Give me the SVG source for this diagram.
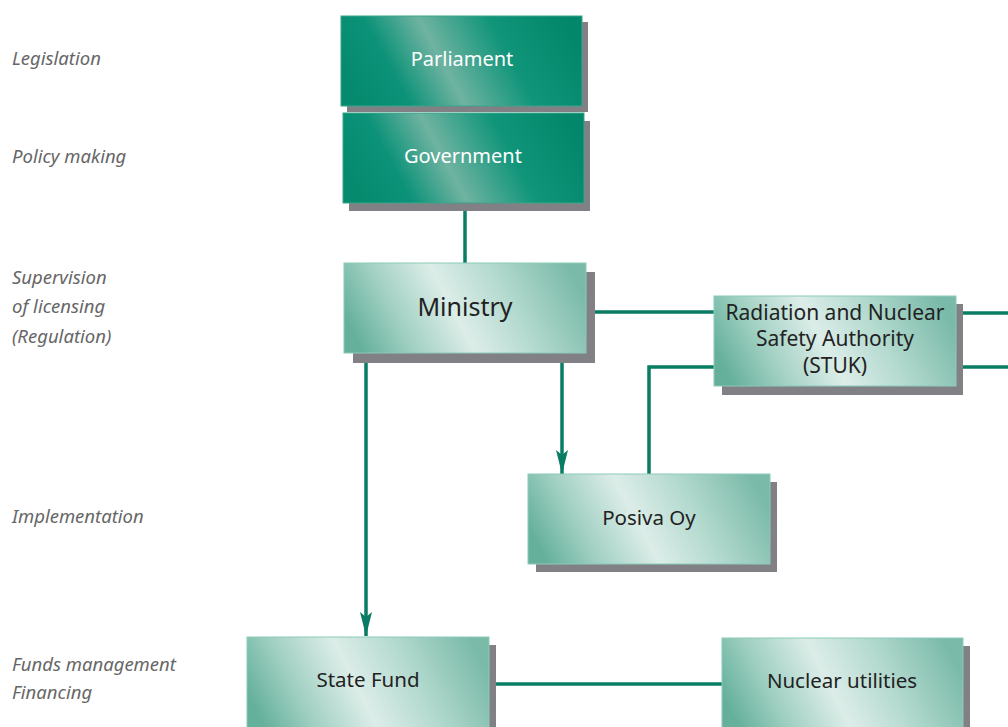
<svg xmlns="http://www.w3.org/2000/svg" width="1008" height="727" viewBox="0 0 1008 727">
<style>
.lbl{font-family:"Noto Sans","Open Sans",sans-serif;font-style:italic;font-size:18.5px;fill:#666666}
.nt{font-family:"Noto Sans","Open Sans",sans-serif;font-size:20.5px;fill:#222;text-anchor:middle}
.wt{fill:#ffffff;font-size:20px}
.shadow{fill:#818185}
.dark{fill:url(#gDark);stroke:#3aa58a;stroke-width:1}
.light{fill:url(#gLight);stroke:#8ccbb9;stroke-width:1}
.conn{stroke:#087d63;stroke-width:3.5;fill:none}
</style>
<defs>
<linearGradient id="gDark" x1="0" y1="0.6" x2="1" y2="0.4">
<stop offset="0" stop-color="#058a6e"/>
<stop offset="0.2" stop-color="#0b9278"/>
<stop offset="0.42" stop-color="#6fb3a1"/>
<stop offset="0.7" stop-color="#10957a"/>
<stop offset="1" stop-color="#03876b"/>
</linearGradient>
<linearGradient id="gLight" x1="0" y1="0.6" x2="1" y2="0.4">
<stop offset="0" stop-color="#64b09b"/>
<stop offset="0.2" stop-color="#9fcfc1"/>
<stop offset="0.45" stop-color="#dcede8"/>
<stop offset="0.7" stop-color="#b2d9ce"/>
<stop offset="1" stop-color="#7abaa8"/>
</linearGradient>
<marker id="arr" viewBox="0 0 24 12" refX="24" refY="6" markerWidth="24" markerHeight="12" markerUnits="userSpaceOnUse" orient="auto">
<path d="M0,0 L24,6 L0,12 L5,6 z" fill="#087d63"/>
</marker>
</defs>

<g id="labels">
<text class="lbl" x="12" y="65">Legislation</text>
<text class="lbl" x="12" y="163">Policy making</text>
<text class="lbl" x="12" y="284">Supervision</text>
<text class="lbl" x="12" y="313">of licensing</text>
<text class="lbl" x="12" y="343">(Regulation)</text>
<text class="lbl" x="12" y="523">Implementation</text>
<text class="lbl" x="12" y="671">Funds management</text>
<text class="lbl" x="12" y="699">Financing</text>
</g>

<g id="connectors">
<line class="conn" x1="465" y1="205" x2="465" y2="264"/>
<line class="conn" x1="586" y1="312" x2="715" y2="312"/>
<line class="conn" x1="956" y1="313" x2="1008" y2="313"/>
<line class="conn" x1="956" y1="367" x2="1008" y2="367"/>
<polyline class="conn" points="649,474 649,367 715,367"/>
<line class="conn" x1="366" y1="353" x2="366" y2="636" marker-end="url(#arr)"/>
<line class="conn" x1="562" y1="353" x2="562" y2="474" marker-end="url(#arr)"/>
<line class="conn" x1="489" y1="684" x2="722" y2="684"/>
</g>

<g id="parliament">
<rect class="shadow" x="347" y="22" width="241" height="90"/>
<rect class="dark" x="341" y="16" width="241" height="90"/>
<text class="nt wt" x="462" y="66">Parliament</text>
</g>
<g id="government">
<rect class="shadow" x="349" y="121" width="241" height="90"/>
<rect class="dark" x="343" y="113" width="241" height="90"/>
<text class="nt wt" x="463" y="163">Government</text>
</g>
<g id="ministry">
<rect class="shadow" x="353" y="272" width="242" height="91"/>
<rect class="light" x="344" y="263" width="242" height="90"/>
<text class="nt" x="465" y="316" style="font-size:25px">Ministry</text>
</g>
<g id="stuk">
<rect class="shadow" x="722" y="304" width="241" height="91"/>
<rect class="light" x="714" y="296" width="242" height="90"/>
<text class="nt" x="835" y="320" style="font-size:21px">Radiation and Nuclear</text>
<text class="nt" x="835" y="346" style="font-size:21px">Safety Authority</text>
<text class="nt" x="835" y="373" style="font-size:21px">(STUK)</text>
</g>
<g id="posiva">
<rect class="shadow" x="536" y="482" width="241" height="90"/>
<rect class="light" x="528" y="474" width="242" height="90"/>
<text class="nt" x="649" y="525">Posiva Oy</text>
</g>
<g id="statefund">
<rect class="shadow" x="255" y="645" width="241" height="90"/>
<rect class="light" x="247" y="637" width="242" height="95"/>
<text class="nt" x="368" y="687">State Fund</text>
</g>
<g id="nuclear">
<rect class="shadow" x="729" y="646" width="241" height="90"/>
<rect class="light" x="722" y="638" width="241" height="95"/>
<text class="nt" x="842" y="688">Nuclear utilities</text>
</g>
</svg>
